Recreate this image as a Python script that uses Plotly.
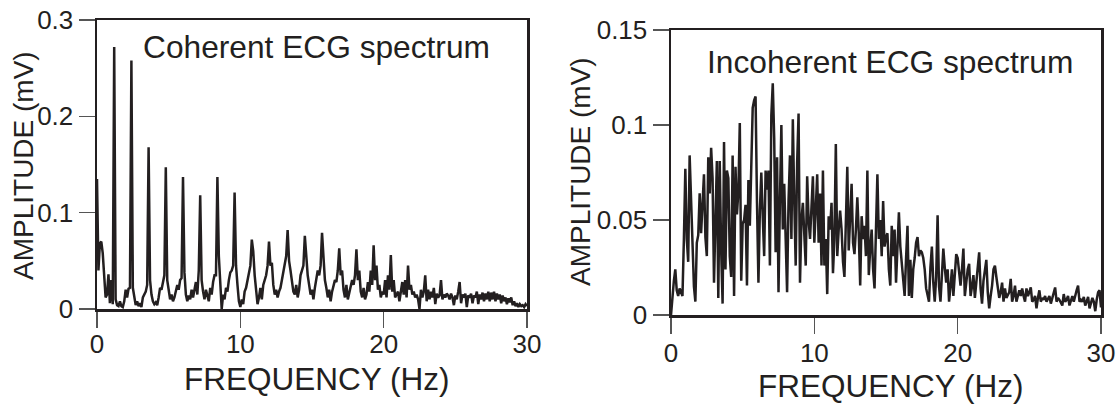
import plotly.graph_objects as go

# Frequency bin step (Hz) of both spectra
freq_step = 0.1

# Coherent ECG spectrum amplitudes (mV), one value per 0.1 Hz from 0 to 30 Hz
coherent_amp = [
    0.135, 0.040, 0.068, 0.070, 0.058, 0.030, 0.012, 0.015, 0.036, 0.006,
    0.030, 0.005, 0.272, 0.010, 0.004, 0.003, 0.008, 0.003, 0.002, 0.008,
    0.020, 0.012, 0.021, 0.022, 0.258, 0.022, 0.010, 0.004, 0.008, 0.003,
    0.006, 0.002, 0.012, 0.015, 0.018, 0.025, 0.168, 0.030, 0.015, 0.008,
    0.005, 0.007, 0.004, 0.012, 0.022, 0.020, 0.030, 0.035, 0.147, 0.030,
    0.020, 0.010, 0.015, 0.008, 0.012, 0.018, 0.025, 0.020, 0.030, 0.032,
    0.137, 0.038, 0.015, 0.008, 0.014, 0.010, 0.020, 0.012, 0.022, 0.028,
    0.015, 0.040, 0.118, 0.030, 0.018, 0.010, 0.020, 0.012, 0.008, 0.022,
    0.015, 0.028, 0.035, 0.035, 0.137, 0.055, 0.020, 0.000, 0.015, 0.010,
    0.022, 0.018, 0.030, 0.038, 0.040, 0.045, 0.121, 0.045, 0.025, 0.008,
    0.002, 0.010, 0.005, 0.018, 0.022, 0.030, 0.035, 0.045, 0.072, 0.060,
    0.035, 0.018, 0.005, 0.012, 0.022, 0.010, 0.025, 0.030, 0.035, 0.045,
    0.070, 0.045, 0.048, 0.025, 0.015, 0.020, 0.012, 0.018, 0.022, 0.030,
    0.040, 0.050, 0.055, 0.082, 0.050, 0.040, 0.030, 0.018, 0.015, 0.025,
    0.012, 0.020, 0.035, 0.040, 0.045, 0.076, 0.050, 0.035, 0.025, 0.015,
    0.020, 0.010, 0.022, 0.030, 0.040, 0.035, 0.045, 0.079, 0.050, 0.030,
    0.022, 0.012, 0.020, 0.008, 0.018, 0.025, 0.030, 0.028, 0.040, 0.063,
    0.035, 0.040, 0.020, 0.012, 0.025, 0.010, 0.018, 0.022, 0.030, 0.025,
    0.035, 0.062, 0.030, 0.040, 0.018, 0.012, 0.022, 0.010, 0.015, 0.028,
    0.018, 0.040, 0.025, 0.066, 0.030, 0.045, 0.020, 0.025, 0.012, 0.018,
    0.015, 0.030, 0.012, 0.035, 0.020, 0.056, 0.018, 0.030, 0.012, 0.015,
    0.018, 0.008, 0.020, 0.028, 0.015, 0.030, 0.012, 0.045, 0.020, 0.025,
    0.015, 0.018, 0.012, 0.015, 0.010, 0.000, 0.020, 0.012, 0.018, 0.035,
    0.008, 0.020, 0.010, 0.018, 0.012, 0.022, 0.005, 0.016, 0.012, 0.014,
    0.030, 0.010, 0.015, 0.012, 0.016, 0.014, 0.010, 0.016, 0.012, 0.004,
    0.014, 0.010, 0.018, 0.028, 0.006, 0.015, 0.012, 0.016, 0.002, 0.014,
    0.012, 0.016, 0.006, 0.014, 0.012, 0.018, 0.005, 0.015, 0.010, 0.017,
    0.008, 0.016, 0.010, 0.018, 0.008, 0.017, 0.010, 0.018, 0.008, 0.016,
    0.010, 0.015, 0.006, 0.014, 0.008, 0.012, 0.005, 0.011, 0.007, 0.012,
    0.004, 0.008, 0.003, 0.006, 0.002, 0.005, 0.003, 0.004, 0.002, 0.005,
    0.003,
]

# Incoherent ECG spectrum amplitudes (mV), one value per 0.1 Hz from 0 to 30 Hz
incoherent_amp = [
    0.000, 0.012, 0.018, 0.024, 0.013, 0.010, 0.014, 0.012, 0.010, 0.040,
    0.077, 0.040, 0.028, 0.084, 0.059, 0.031, 0.015, 0.007, 0.038, 0.042,
    0.064, 0.043, 0.058, 0.074, 0.041, 0.031, 0.083, 0.064, 0.088, 0.072,
    0.017, 0.060, 0.081, 0.009, 0.081, 0.034, 0.006, 0.091, 0.024, 0.076,
    0.072, 0.031, 0.020, 0.084, 0.010, 0.078, 0.053, 0.065, 0.101, 0.018,
    0.048, 0.050, 0.058, 0.0155, 0.071, 0.047, 0.076, 0.109, 0.113, 0.115,
    0.059, 0.017, 0.055, 0.075, 0.052, 0.031, 0.076, 0.066, 0.076, 0.026,
    0.105, 0.122, 0.093, 0.033, 0.083, 0.012, 0.060, 0.100, 0.045, 0.069,
    0.040, 0.012, 0.060, 0.084, 0.040, 0.103, 0.060, 0.026, 0.080, 0.106,
    0.017, 0.050, 0.059, 0.040, 0.026, 0.073, 0.050, 0.040, 0.055, 0.073,
    0.038, 0.060, 0.074, 0.038, 0.064, 0.026, 0.076, 0.026, 0.040, 0.011,
    0.052, 0.045, 0.059, 0.022, 0.040, 0.090, 0.031, 0.045, 0.055, 0.045,
    0.028, 0.020, 0.050, 0.078, 0.034, 0.050, 0.069, 0.038, 0.032, 0.045,
    0.062, 0.043, 0.0155, 0.052, 0.040, 0.047, 0.031, 0.076, 0.021, 0.035,
    0.045, 0.024, 0.014, 0.045, 0.074, 0.040, 0.050, 0.031, 0.060, 0.036,
    0.041, 0.043, 0.024, 0.0155, 0.047, 0.031, 0.045, 0.017, 0.035, 0.054,
    0.036, 0.028, 0.020, 0.010, 0.030, 0.047, 0.010, 0.029, 0.009, 0.024,
    0.030, 0.038, 0.041, 0.031, 0.034, 0.033, 0.030, 0.024, 0.014, 0.010,
    0.007, 0.025, 0.036, 0.017, 0.007, 0.020, 0.0525, 0.015, 0.007, 0.021,
    0.035, 0.025, 0.017, 0.024, 0.007, 0.015, 0.024, 0.010, 0.020, 0.032,
    0.030, 0.022, 0.0155, 0.024, 0.035, 0.010, 0.018, 0.024, 0.027, 0.010,
    0.015, 0.021, 0.009, 0.018, 0.025, 0.033, 0.014, 0.006, 0.018, 0.024,
    0.029, 0.012, 0.0035, 0.010, 0.0155, 0.024, 0.026, 0.020, 0.0155, 0.009,
    0.012, 0.017, 0.007, 0.014, 0.009, 0.011, 0.012, 0.019, 0.007, 0.010,
    0.0155, 0.007, 0.010, 0.013, 0.010, 0.014, 0.010, 0.007, 0.014, 0.010,
    0.012, 0.0145, 0.007, 0.008, 0.010, 0.0035, 0.009, 0.013, 0.007, 0.009,
    0.008, 0.010, 0.007, 0.009, 0.010, 0.006, 0.009, 0.011, 0.0145, 0.007,
    0.009, 0.008, 0.006, 0.005, 0.011, 0.007, 0.008, 0.010, 0.005, 0.008,
    0.010, 0.007, 0.011, 0.013, 0.0155, 0.007, 0.008, 0.007, 0.0095, 0.005,
    0.007, 0.0095, 0.0035, 0.006, 0.009, 0.007, 0.002, 0.008, 0.012, 0.013,
    0.004,
]

freq_coh = [round(i * freq_step, 2) for i in range(len(coherent_amp))]
freq_inc = [round(i * freq_step, 2) for i in range(len(incoherent_amp))]

x_tick_vals = [0, 10, 20, 30]
x_tick_text = ["0", "10", "20", "30"]
y1_tick_vals = [0, 0.1, 0.2, 0.3]
y1_tick_text = ["0", "0.1", "0.2", "0.3"]
y2_tick_vals = [0, 0.05, 0.1, 0.15]
y2_tick_text = ["0", "0.05", "0.1", "0.15"]

titles = ["Coherent ECG spectrum", "Incoherent ECG spectrum"]
x_title = "FREQUENCY (Hz)"
y_title = "AMPLITUDE (mV)"

INK = "#231f20"
FONT = "Liberation Sans, Arial, Helvetica, sans-serif"
W, H = 1118, 404

fig = go.Figure()
fig.add_trace(go.Scatter(x=freq_coh, y=coherent_amp, mode="lines",
                         line=dict(color=INK, width=2.5), xaxis="x", yaxis="y",
                         showlegend=False, hoverinfo="skip"))
fig.add_trace(go.Scatter(x=freq_inc, y=incoherent_amp, mode="lines",
                         line=dict(color=INK, width=2.5), xaxis="x2", yaxis="y2",
                         showlegend=False, hoverinfo="skip"))

def px_x(p):
    return p / W

def px_y(p):
    return 1 - p / H

axis_common = dict(showline=True, linecolor=INK, linewidth=2.5, mirror=True,
                   ticks="outside", ticklen=16, tickwidth=1.3, tickcolor="#555555",
                   showgrid=False, zeroline=False, fixedrange=True, automargin=False,
                   tickfont=dict(family=FONT, size=26, color=INK))

# panel geometry in pixels
L = dict(x0=97, x1=527, ytop=20, ybot=309)
R = dict(x0=671, x1=1101, ytop=30, ybot=315)

fig.update_layout(
    template="none",
    width=W, height=H,
    margin=dict(l=0, r=0, t=0, b=0, autoexpand=False),
    paper_bgcolor="white", plot_bgcolor="white",
    font=dict(family=FONT, color=INK),
    xaxis=dict(axis_common, domain=[px_x(L["x0"]), px_x(L["x1"])], range=[0, 30],
               tickvals=x_tick_vals, ticktext=x_tick_text, anchor="y",
               ticklabelstandoff=-6),
    yaxis=dict(axis_common, domain=[px_y(L["ybot"]), px_y(L["ytop"])], range=[0, 0.3],
               tickvals=y1_tick_vals, ticktext=y1_tick_text, anchor="x"),
    xaxis2=dict(axis_common, domain=[px_x(R["x0"]), px_x(R["x1"])], range=[0, 30],
                tickvals=x_tick_vals, ticktext=x_tick_text, anchor="y2",
                ticklabelstandoff=-3),
    yaxis2=dict(axis_common, domain=[px_y(R["ybot"]), px_y(R["ytop"])], range=[0, 0.15],
                tickvals=y2_tick_vals, ticktext=y2_tick_text, anchor="x2"),
)

ann = []
# panel titles
ann.append(dict(text=titles[0], x=px_x(316), y=px_y(47), xref="paper", yref="paper",
                showarrow=False, xanchor="center", yanchor="middle",
                font=dict(family=FONT, size=31.7, color=INK)))
ann.append(dict(text=titles[1], x=px_x(890), y=px_y(62), xref="paper", yref="paper",
                showarrow=False, xanchor="center", yanchor="middle",
                font=dict(family=FONT, size=31.7, color=INK)))
# axis titles
for cx, cy in [(316, 379), (890, 386)]:
    ann.append(dict(text=x_title, x=px_x(cx), y=px_y(cy), xref="paper", yref="paper",
                    showarrow=False, xanchor="center", yanchor="middle",
                    font=dict(family=FONT, size=31.5, color=INK)))
for cx, cy in [(24, 166), (581, 172)]:
    ann.append(dict(text=y_title, x=px_x(cx), y=px_y(cy), xref="paper", yref="paper",
                    showarrow=False, xanchor="center", yanchor="middle", textangle=-90,
                    font=dict(family=FONT, size=28, color=INK)))
fig.update_layout(annotations=ann)

# remove the browser's default page margin so the figure sits at the window origin
fig.write_html("out.html",
               config={"displayModeBar": False, "staticPlot": True},
               post_script="document.body.style.margin='0';document.body.style.overflow='hidden';")
